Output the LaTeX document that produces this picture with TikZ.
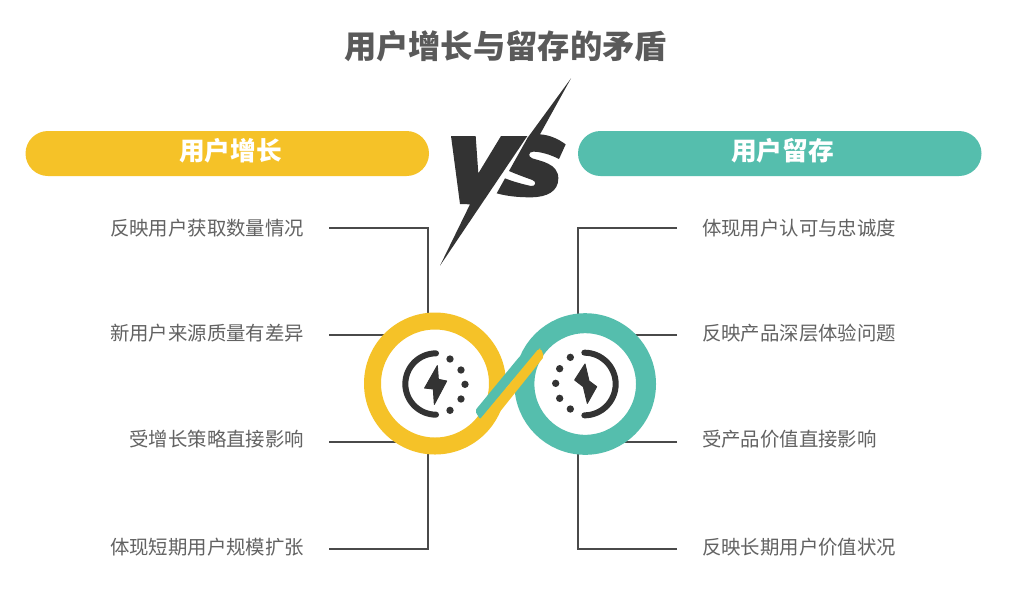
\documentclass[tikz,border=0pt]{standalone}
\usepackage{fontspec}
\setmainfont{Noto Sans CJK SC}
\definecolor{yel}{HTML}{F5C228}
\definecolor{tea}{HTML}{55BEAD}
\definecolor{ink}{HTML}{333333}
\definecolor{txt}{HTML}{5A5A5A}
\definecolor{rowc}{HTML}{626262}
\definecolor{wirec}{HTML}{4A4A4A}
\tikzset{
  pill/.style={fill=#1,rounded corners=22.5pt,minimum width=403.5pt,minimum height=45pt,inner sep=0,outer sep=0},
  pilltext/.style={text=white,font=\fontsize{25.7pt}{30pt}\selectfont\bfseries,inner sep=0},
  rowtext/.style={text=rowc,font=\fontsize{19.4pt}{23pt}\selectfont,inner sep=0,outer sep=0},
  wire/.style={draw=wirec,line width=2pt},
  ring/.style={circle,fill=white,inner sep=0,outer sep=0},
  glyph/.style={fill=ink,draw=ink,line width=1pt,line join=round},
  arcstroke/.style={draw=ink,line width=6pt,line cap=round}
}
\begin{document}
\begin{tikzpicture}[x=1pt,y=-1pt]
\useasboundingbox (0,0) rectangle (1024,590);
\fill[white] (0,0) rectangle (1024,590);
\node[text=txt,font=\fontsize{32.3pt}{38pt}\selectfont\bfseries,inner sep=0] (title) at (505.5,46) {用户增长与留存的矛盾};
\node[pill=yel,anchor=west] (pillL) at (25.5,153.5) {};
\node[pill=tea,anchor=west] (pillR) at (578,153.5) {};
\node[pilltext] (pillLt) at (230.5,151) {用户增长};
\node[pilltext] (pillRt) at (782.5,151) {用户留存};
% VS
\begin{scope}[shift={(445,125)},scale=1/3]
\fill[ink] (18,33)--(92,33)--(100,145)--(168,33)--(247,33)--(-15,422)--(75,238)--(45,237)--cycle;
\fill[ink] (378,-140)--(285,28) .. controls (315,30) and (340,42) .. (362,58)--(342,102)
  .. controls (315,88) and (285,80) .. (265,80) .. controls (250,80) and (248,95) .. (262,100)
  .. controls (285,108) and (340,115) .. (340,160) .. controls (340,200) and (305,216) .. (260,217)
  .. controls (215,217) and (185,213) .. (155,205)--(180,160)
  .. controls (205,170) and (235,178) .. (258,183) .. controls (272,185) and (276,170) .. (262,165)
  .. controls (240,157) and (215,148) .. (192,138)--(248,38)--cycle;
\end{scope}
% row labels
\node[rowtext,anchor=east] (l1) at (304,228) {反映用户获取数量情况};
\node[rowtext,anchor=east] (l2) at (304,333) {新用户来源质量有差异};
\node[rowtext,anchor=east] (l3) at (304,439) {受增长策略直接影响};
\node[rowtext,anchor=east] (l4) at (304,547) {体现短期用户规模扩张};
\node[rowtext,anchor=west] (r1) at (702,228) {体现用户认可与忠诚度};
\node[rowtext,anchor=west] (r2) at (702,333) {反映产品深层体验问题};
\node[rowtext,anchor=west] (r3) at (702,439) {受产品价值直接影响};
\node[rowtext,anchor=west] (r4) at (702,547) {反映长期用户价值状况};
% connector ends
\coordinate (s1) at (329,228); \coordinate (s2) at (329,335); \coordinate (s3) at (329,442); \coordinate (s4) at (329,549);
\coordinate (t1) at (677,228); \coordinate (t2) at (677,335); \coordinate (t3) at (677,442); \coordinate (t4) at (677,549);
\coordinate (hubL) at (428,384); \coordinate (hubR) at (578,384);
\draw[wire] (s1) -| (hubL);
\draw[wire] (s4) -| (hubL);
\draw[wire] (s2) -- (hubL |- s2);
\draw[wire] (s3) -- (hubL |- s3);
\draw[wire] (t1) -| (hubR);
\draw[wire] (t4) -| (hubR);
\draw[wire] (t2) -- (hubR |- t2);
\draw[wire] (t3) -- (hubR |- t3);
% rings
\node[ring,draw=yel,line width=17pt,minimum size=125pt] (ringL) at (435,383.5) {};
\node[ring,draw=tea,line width=20pt,minimum size=121.6pt] (ringR) at (585.2,384) {};
% strip and icons in zoom coordinates
\begin{scope}[shift={(350,300)},scale=1/3]
\fill[tea,rounded corners=2pt] (375,332)--(510,168)--(560,140)--(568,146)--(390,358)--cycle;
\fill[yel,rounded corners=2pt] (390,358)--(566,146)--(573,146)--(582,170)--(450,335)--(420,370)--cycle;
% left icon
\draw[arcstroke] (258,160) arc[start angle=-90,delta angle=-180,radius=92];
\foreach \p in {(300,177),(333,210),(345,253),(333,297),(300,331)} \fill[ink] \p circle[radius=11];
\fill[glyph] (262,197)--(224,264)--(250,267)--(253,313)--(290,243)--(265,238)--cycle;
% right icon
\draw[arcstroke] (703,158) arc[start angle=-90,delta angle=180,radius=94];
\foreach \p in {(661,172),(629,206),(617,250),(629,295),(661,327)} \fill[ink] \p circle[radius=11];
\fill[glyph] (705,192)--(674,240)--(700,260)--(712,310)--(740,260)--(717,243)--cycle;
\end{scope}
\end{tikzpicture}
\end{document}
